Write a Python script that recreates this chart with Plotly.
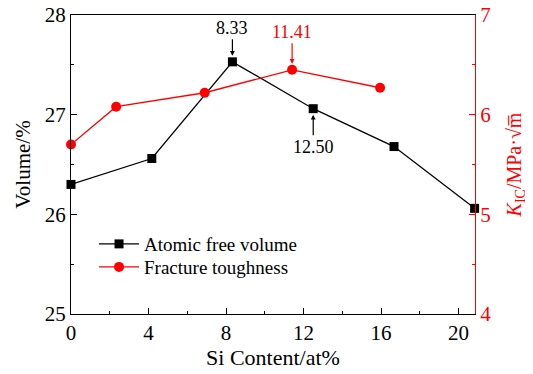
import plotly.graph_objects as go

x_vol = [0, 4.17, 8.33, 12.50, 16.67, 20.83]
vol = [26.30, 26.56, 27.53, 27.06, 26.68, 26.06]
x_kic = [0, 2.33, 6.9, 11.41, 15.95]
kic = [5.70, 6.08, 6.22, 6.45, 6.27]
x_ticks = [0, 4, 8, 12, 16, 20]

FONT = "Times New Roman, Liberation Serif, serif"
RED = "#ff0000"

fig = go.Figure()
fig.add_trace(go.Scatter(
    x=x_vol, y=vol, mode="lines+markers", name="Atomic free volume",
    line=dict(color="black", width=1.3),
    marker=dict(symbol="square", size=9, color="black"),
    cliponaxis=False, legend="legend"))
fig.add_trace(go.Scatter(
    x=x_kic, y=kic, mode="lines+markers", name="Fracture toughness",
    line=dict(color=RED, width=1.3),
    marker=dict(symbol="circle", size=10, color=RED),
    cliponaxis=False, yaxis="y2", legend="legend2"))

ann_common = dict(showarrow=True, arrowhead=2, arrowsize=0.8, arrowwidth=1.2,
                  standoff=6, ax=0)
fig.add_annotation(x=x_vol[2], y=vol[2], text="8.33", ay=-34, arrowcolor="black",
                   font=dict(family=FONT, size=18, color="black"), **ann_common)
fig.add_annotation(x=x_kic[3], y=kic[3], text="11.41", ay=-38, arrowcolor=RED, yref="y2",
                   font=dict(family=FONT, size=18, color=RED), **ann_common)
fig.add_annotation(x=x_vol[3], y=vol[3], text="12.50", ay=38, arrowcolor="black",
                   font=dict(family=FONT, size=18, color="black"), **ann_common)

leg_common = dict(xanchor="left", yanchor="middle", bgcolor="rgba(0,0,0,0)",
                  font=dict(family=FONT, size=19), itemwidth=40)

fig.update_layout(
    width=525, height=366,
    margin=dict(l=63, r=58, t=7, b=60),
    paper_bgcolor="white", plot_bgcolor="white",
    font=dict(family=FONT, size=21, color="black"),
    showlegend=True,
    legend=dict(x=0.057, y=0.234, **leg_common),
    legend2=dict(x=0.057, y=0.157, **leg_common),
    xaxis=dict(
        range=[0, 20.85], tickvals=x_ticks, ticks="inside", ticklen=6,
        tickcolor="black", showline=True, linecolor="black", linewidth=1.2,
        mirror=True, showgrid=False, zeroline=False, automargin=False,
        ticklabeloverflow="allow",
        minor=dict(dtick=2, ticks="inside", ticklen=3, tickcolor="black"),
        title=dict(text="Si Content/at%", font=dict(family=FONT, size=22), standoff=5),
        tickfont=dict(family=FONT, size=21)),
    yaxis=dict(
        range=[25, 28], dtick=1, ticks="inside", ticklen=6, tickcolor="black",
        showline=True, linecolor="black", linewidth=1.2, showgrid=False, zeroline=False,
        automargin=False, ticklabeloverflow="allow",
        minor=dict(dtick=0.5, ticks="inside", ticklen=3, tickcolor="black"),
        title=dict(text="Volume/%", font=dict(family=FONT, size=21), standoff=8),
        tickfont=dict(family=FONT, size=21)),
    yaxis2=dict(
        range=[4, 7], dtick=1, overlaying="y", side="right", anchor="x",
        ticks="inside", ticklen=6, tickcolor=RED, showline=True, linecolor=RED,
        linewidth=1.2, showgrid=False, zeroline=False, automargin=False,
        ticklabeloverflow="allow",
        minor=dict(dtick=0.5, ticks="inside", ticklen=3, tickcolor=RED),
        title=dict(text="<i>K</i><sub>IC</sub>/MPa·√m\u0305", font=dict(family=FONT, size=20, color=RED), standoff=16),
        tickfont=dict(family=FONT, size=21, color=RED)),
)

fig.write_html("out.html")
